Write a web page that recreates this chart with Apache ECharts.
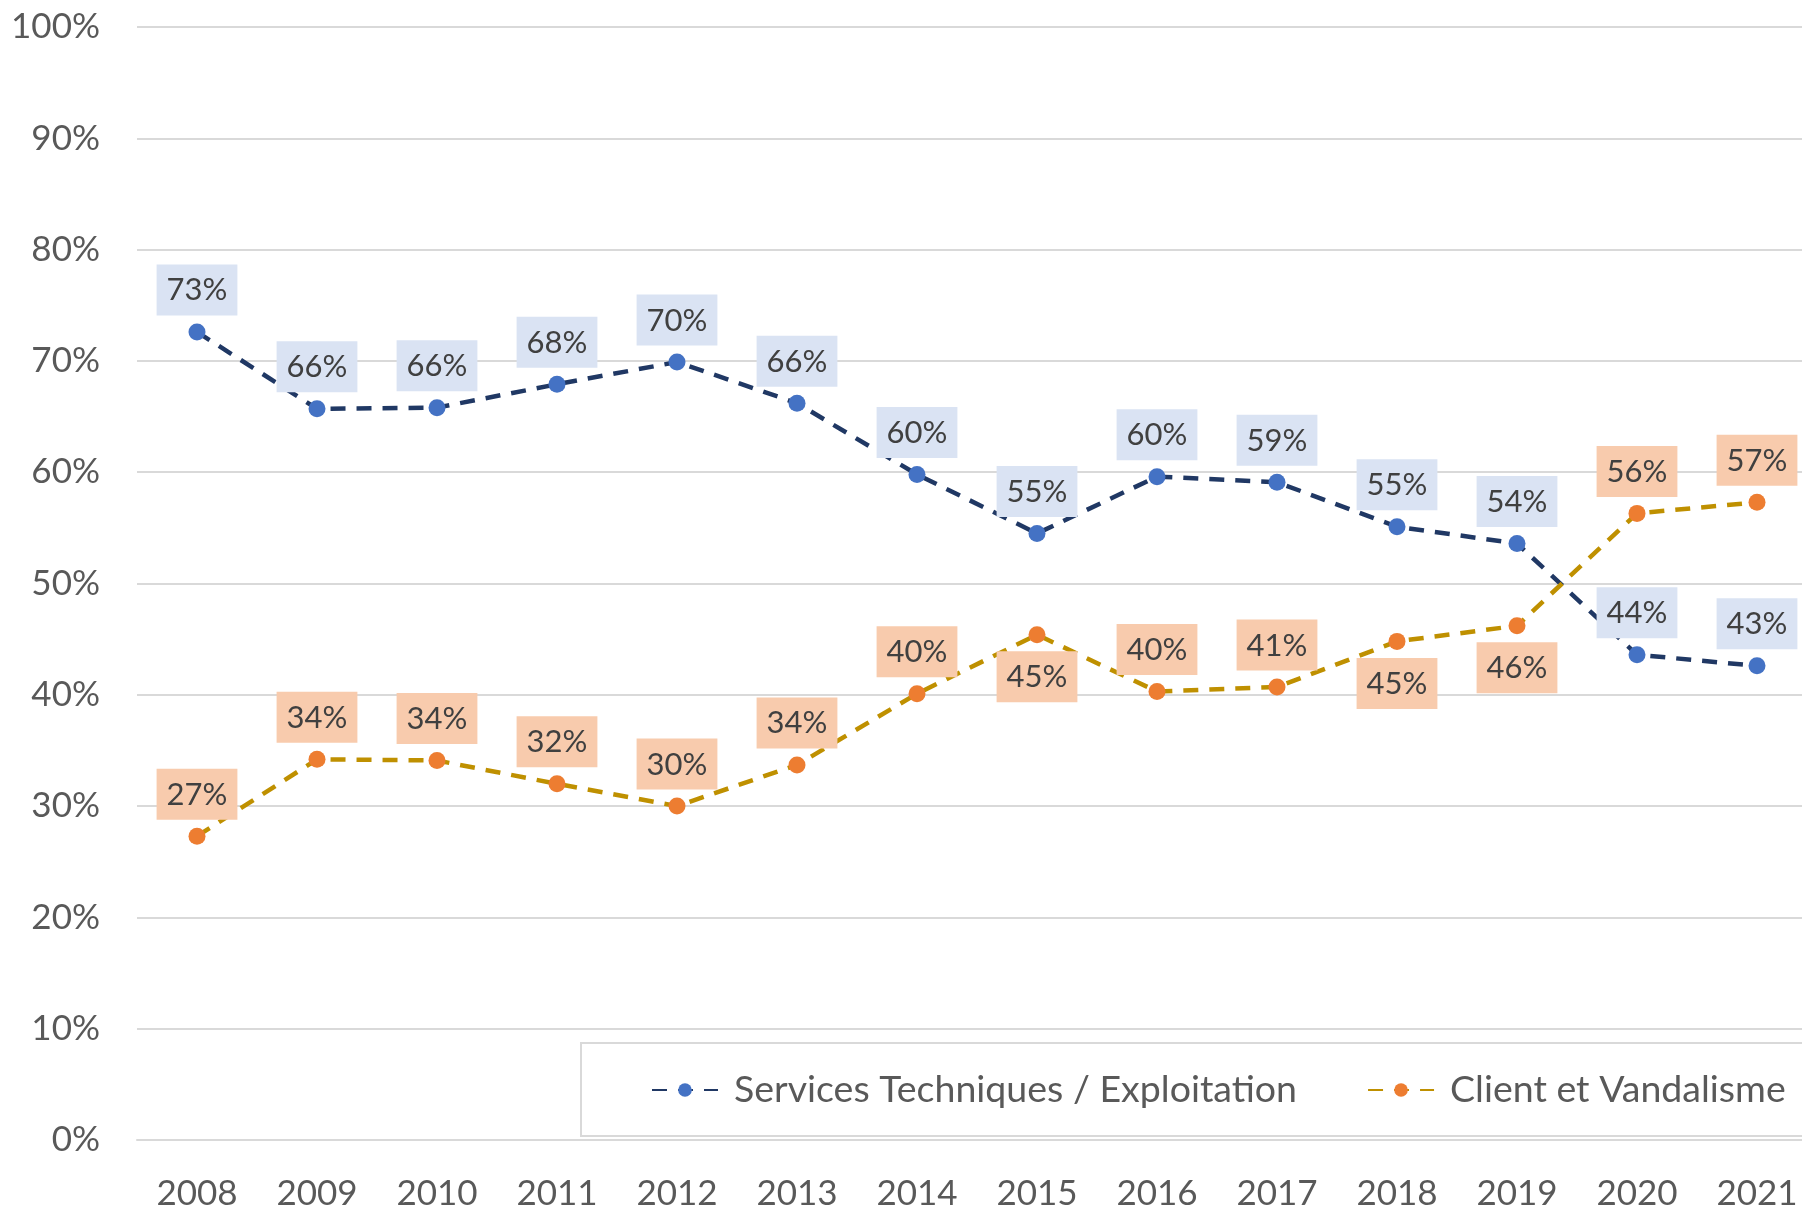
<!DOCTYPE html>
<html>
<head>
<meta charset="utf-8">
<script src="https://cdn.jsdelivr.net/npm/echarts@6/dist/echarts.min.js"></script>
<style>
  html, body { margin: 0; padding: 0; background: #fff; overflow: hidden; }
  #main { width: 1840px; height: 1211px; }
</style>
</head>
<body>
<div id="main"></div>
<script>
// données
const years = ['2008', '2009', '2010', '2011', '2012', '2013', '2014', '2015', '2016', '2017', '2018', '2019', '2020', '2021'];
const servicesTech = [72.6, 65.7, 65.8, 67.9, 69.9, 66.2, 59.8, 54.5, 59.6, 59.1, 55.1, 53.6, 43.6, 42.6];
const clientVandalisme = [27.3, 34.2, 34.1, 32.0, 30.0, 33.7, 40.1, 45.4, 40.3, 40.7, 44.8, 46.2, 56.3, 57.3];
// années où l'étiquette orange est sous le point
const clientLabelBelow = ['2015', '2018', '2019'];

const FONT = 'Lato';

// le graphique dépasse à droite, comme l'original
var myChart = echarts.init(document.getElementById('main'));

function labelStyle(bg) {
  return {
    show: true,
    position: 'top',
    distance: 8,
    formatter: p => Math.round(p.value) + '%',
    fontFamily: FONT,
    fontSize: 31,
    lineHeight: 32,
    color: '#404040',
    backgroundColor: bg,
    padding: [10, 10, 9, 10]
  };
}

// points orange, étiquette en dessous pour certaines années
const clientData = clientVandalisme.map((v, i) => {
  if (clientLabelBelow.indexOf(years[i]) >= 0) {
    return { value: v, label: { position: 'bottom' } };
  }
  return v;
});

const option = {
  backgroundColor: '#fff',
  animation: false,
  grid: { left: 137, top: 27, width: 1680, height: 1115 },
  xAxis: {
    type: 'category',
    data: years,
    axisLine: { lineStyle: { color: '#d9d9d9', width: 2 } },
    axisTick: { show: false },
    axisLabel: { margin: 36, fontFamily: FONT, fontSize: 35, color: '#595959' }
  },
  yAxis: {
    type: 'value',
    min: 0,
    max: 100,
    interval: 10,
    axisLabel: { margin: 37, formatter: '{value}%', fontFamily: FONT, fontSize: 35, color: '#595959' },
    splitLine: { lineStyle: { color: '#d9d9d9', width: 2 } }
  },
  legend: {
    left: 581,
    top: 1043,
    width: 1500,
    backgroundColor: '#fff',
    borderColor: '#d9d9d9',
    borderWidth: 2,
    padding: [27, 100, 26, 70],
    itemWidth: 66,
    itemHeight: 17,
    itemGap: 70,
    textStyle: { fontFamily: FONT, fontSize: 37.5, color: '#595959', lineHeight: 40, padding: [0, 0, 0, 11] },
    data: ['Services Techniques / Exploitation', 'Client et Vandalisme']
  },
  series: [
    {
      name: 'Services Techniques / Exploitation',
      type: 'line',
      data: servicesTech,
      symbol: 'circle',
      symbolSize: 17,
      itemStyle: { color: '#4472C4' },
      lineStyle: { color: '#203864', width: 4.5, type: [15, 11] },
      label: labelStyle('#DAE3F3')
    },
    {
      name: 'Client et Vandalisme',
      type: 'line',
      data: clientData,
      symbol: 'circle',
      symbolSize: 17,
      itemStyle: { color: '#ED7D31' },
      lineStyle: { color: '#BF9000', width: 4.5, type: [15, 11] },
      label: labelStyle('#F8CBAD')
    }
  ]
};

myChart.setOption(option);
</script>
</body>
</html>
